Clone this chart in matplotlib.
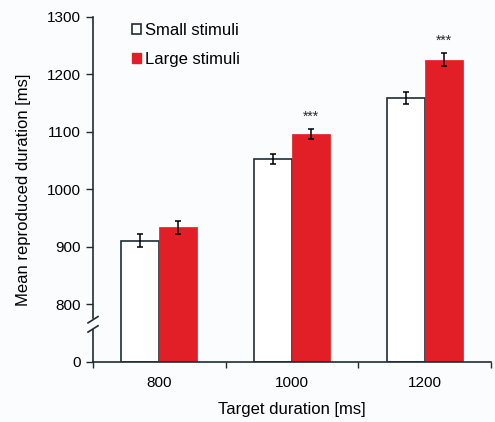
import matplotlib.pyplot as plt
import matplotlib.transforms as mtransforms
from matplotlib.patches import Patch
import numpy as np

plt.rcParams['font.family'] = ['Liberation Sans', 'DejaVu Sans']

targets = ["800", "1000", "1200"]
small_mean = [911, 1053, 1159]
small_err = [11, 9, 10]
large_mean = [934, 1096, 1226]
large_err = [11, 9, 11]
signif = ["", "***", "***"]

# the broken axis: position 700 stands for 0
base = 700
yticks = [700, 800, 900, 1000, 1100, 1200, 1300]
ytick_labels = ["0", "800", "900", "1000", "1100", "1200", "1300"]

red = "#e21e26"
dark = "#1f2d33"
bg = "#fbfcfe"

fig = plt.figure(figsize=(4.95, 4.22), dpi=100, facecolor=bg)
ax = fig.add_axes([93 / 495, 60 / 422, 398 / 495, 345 / 422])
ax.set_facecolor(bg)

x = np.arange(len(targets))
w = 0.286
small_h = [v - base for v in small_mean]
large_h = [v - base for v in large_mean]
ax.bar(x - w / 2, small_h, w, bottom=base, color="white", edgecolor=dark,
       linewidth=1.2, zorder=2, label="Small stimuli")
ax.bar(x + w / 2, large_h, w, bottom=base, color=red, edgecolor=red,
       linewidth=0.5, zorder=2, label="Large stimuli")
ax.errorbar(x - w / 2, small_mean, yerr=small_err, fmt="none", ecolor="black",
            elinewidth=1.1, capsize=2.5, capthick=1.1, zorder=3)
ax.errorbar(x + w / 2, large_mean, yerr=large_err, fmt="none", ecolor="black",
            elinewidth=1.1, capsize=2.5, capthick=1.1, zorder=3)
for i, s in enumerate(signif):
    if s:
        ax.text(x[i] + w / 2, large_mean[i] + large_err[i] + 10, s,
                ha="center", va="bottom", fontsize=10, color="#2a2a2a")

ax.set_xlim(-0.5, 2.5)
ax.set_ylim(700, 1300)
ax.set_yticks(yticks)
ax.set_yticklabels(ytick_labels)
ax.set_xticks(x)
ax.set_xticklabels(targets)
ax.set_xticks([-0.5, 0.5, 1.5, 2.5], minor=True)
ax.tick_params(axis="x", which="major", length=0, pad=10, labelsize=11)
ax.tick_params(axis="x", which="minor", length=4, width=1, color=dark, direction="out")
ax.tick_params(axis="y", length=5, width=1, color=dark, direction="out",
               labelsize=11, pad=4)

for side in ["top", "right"]:
    ax.spines[side].set_visible(False)
for side in ["left", "bottom"]:
    ax.spines[side].set_color(dark)
    ax.spines[side].set_linewidth(1.2)

# y-axis break
ax.spines["left"].set_bounds(777, 1300)
blend = mtransforms.blended_transform_factory(ax.transAxes, ax.transData)
ax.plot([0, 0], [700, 756], color=dark, lw=1.2, transform=blend, clip_on=False)
dx = 5 / 398
ax.plot([-dx, dx], [768, 779], color=dark, lw=1.2, transform=blend, clip_on=False)
ax.plot([-dx, dx], [752, 763], color=dark, lw=1.2, transform=blend, clip_on=False)

ax.set_xlabel("Target duration [ms]", fontsize=12, labelpad=9)
ax.set_ylabel("Mean reproduced duration [ms]", fontsize=12, labelpad=11)

handles = [Patch(facecolor="white", edgecolor=dark, linewidth=1.2, label="Small stimuli"),
           Patch(facecolor=red, edgecolor=red, label="Large stimuli")]
ax.legend(handles=handles, loc="upper left", bbox_to_anchor=(0.06, 1.027),
          frameon=False, fontsize=12, handlelength=0.55, handleheight=0.55,
          handletextpad=0.25, labelspacing=0.85)

fig.savefig("out.png", dpi=100, facecolor=bg)
